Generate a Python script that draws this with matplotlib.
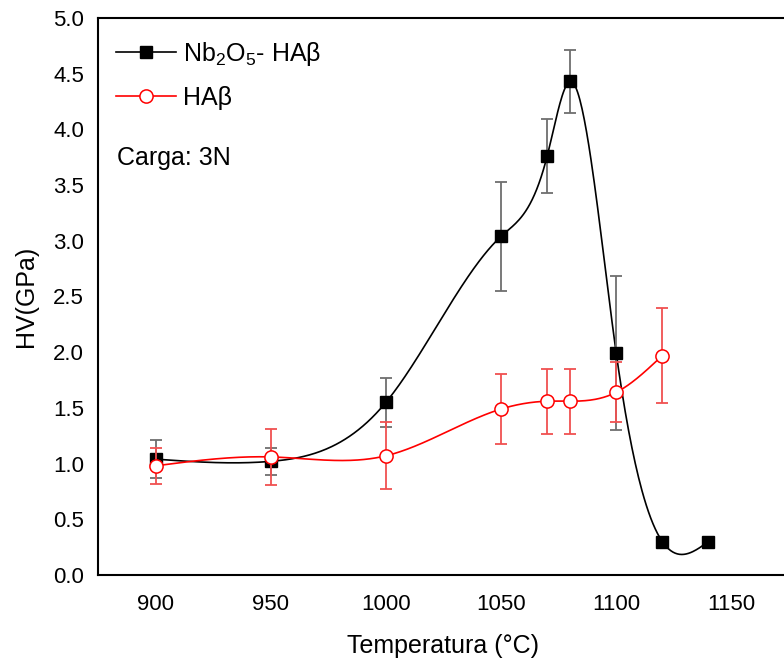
import numpy as np
import matplotlib
matplotlib.use("Agg")
import matplotlib.pyplot as plt
from matplotlib.lines import Line2D
from matplotlib.ticker import MultipleLocator


plt.rcParams["font.family"] = ["Liberation Sans", "DejaVu Sans"]
plt.rcParams["mathtext.fontset"] = "custom"
plt.rcParams["mathtext.rm"] = "Liberation Sans"
plt.rcParams["mathtext.it"] = "Liberation Sans"


# -----------------------------
# Data
# -----------------------------

temp_nb = [900, 950, 1000, 1050, 1070, 1080, 1100, 1120, 1140]
hv_nb = [1.04, 1.02, 1.55, 3.04, 3.76, 4.43, 1.99, 0.30, 0.30]
err_nb = [0.17, 0.12, 0.22, 0.49, 0.33, 0.28, 0.69, 0.0, 0.0]

temp_ha = [900, 950, 1000, 1050, 1070, 1080, 1100, 1120]
hv_ha = [0.98, 1.06, 1.07, 1.49, 1.56, 1.56, 1.64, 1.97]
err_ha = [0.16, 0.25, 0.30, 0.31, 0.29, 0.29, 0.27, 0.43]


def natural_spline(x, y, n=500):
    # natural cubic spline through the points (like Origin's spline connect)
    x = np.asarray(x, float)
    y = np.asarray(y, float)
    m = len(x)
    h = np.diff(x)
    A = np.zeros((m, m))
    b = np.zeros(m)
    A[0, 0] = 1
    A[-1, -1] = 1
    for i in range(1, m - 1):
        A[i, i - 1] = h[i - 1]
        A[i, i] = 2 * (h[i - 1] + h[i])
        A[i, i + 1] = h[i]
        b[i] = 6 * ((y[i + 1] - y[i]) / h[i] - (y[i] - y[i - 1]) / h[i - 1])
    M = np.linalg.solve(A, b)
    xs = np.linspace(x[0], x[-1], n)
    idx = np.clip(np.searchsorted(x, xs) - 1, 0, m - 2)
    x0, x1 = x[idx], x[idx + 1]
    hh = x1 - x0
    ys = (M[idx] * (x1 - xs) ** 3 / (6 * hh)
          + M[idx + 1] * (xs - x0) ** 3 / (6 * hh)
          + (y[idx] / hh - M[idx] * hh / 6) * (x1 - xs)
          + (y[idx + 1] / hh - M[idx + 1] * hh / 6) * (xs - x0))
    return xs, ys


# -----------------------------
# Chart
# -----------------------------

fig = plt.figure(figsize=(7.84, 6.63), dpi=100)
ax = fig.add_axes([98 / 784, 88 / 663, 691 / 784, 557 / 663])

# black series
xs, ys = natural_spline(temp_nb, hv_nb)
ax.plot(xs, ys, color="black", lw=1.2, zorder=2)
ax.errorbar(temp_nb, hv_nb, yerr=err_nb, fmt="none", ecolor="#6e6e6e",
            elinewidth=1.3, capsize=4.5, capthick=1.3, zorder=3)
ax.plot(temp_nb, hv_nb, ls="none", marker="s", ms=8.5, color="black", zorder=4)

# red series
xs, ys = natural_spline(temp_ha, hv_ha)
ax.plot(xs, ys, color="red", lw=1.2, zorder=5)
ax.errorbar(temp_ha, hv_ha, yerr=err_ha, fmt="none", ecolor="#f05050",
            elinewidth=1.3, capsize=4.5, capthick=1.3, zorder=6)
ax.plot(temp_ha, hv_ha, ls="none", marker="o", ms=9.5, mfc="white",
        mec="red", mew=1.1, zorder=7)

ax.set_xlim(875, 1175)
ax.set_ylim(0, 5)
ax.xaxis.set_major_locator(MultipleLocator(50))
ax.xaxis.set_minor_locator(MultipleLocator(25))
ax.yaxis.set_major_locator(MultipleLocator(0.5))
ax.yaxis.set_minor_locator(MultipleLocator(0.25))
ax.yaxis.set_major_formatter(matplotlib.ticker.FormatStrFormatter("%.1f"))

ax.tick_params(which="major", direction="out", length=6.5, width=1.1,
               labelsize=16, pad=5)
ax.tick_params(which="minor", direction="out", length=3.5, width=1.1)
ax.tick_params(axis="y", which="major", pad=9)
ax.tick_params(axis="x", which="major", pad=13)
ax.tick_params(top=True, which="both", length=1)

for side in ["left", "bottom", "top"]:
    ax.spines[side].set_linewidth(1.5)
ax.spines["right"].set_visible(False)

ax.set_xlabel("Temperatura (°C)", fontsize=18, labelpad=13)
ax.set_ylabel("HV(GPa)", fontsize=18, labelpad=11)

handles = [
    Line2D([], [], color="black", lw=1.2, marker="s", ms=8.5),
    Line2D([], [], color="red", lw=1.2, marker="o", ms=9.5, mfc="white",
           mec="red", mew=1.1),
]
labels = ["Nb$_2$O$_5$- HAβ", "HAβ"]
ax.legend(handles, labels, loc="upper left", frameon=False, fontsize=18,
          handlelength=2.4, handletextpad=0.3, labelspacing=0.72,
          borderaxespad=0.3, bbox_to_anchor=(0.0, 0.992))

ax.text(0.027, 0.748, "Carga: 3N", transform=ax.transAxes, fontsize=18,
        va="center", ha="left")

plt.savefig("out.png", dpi=100)
